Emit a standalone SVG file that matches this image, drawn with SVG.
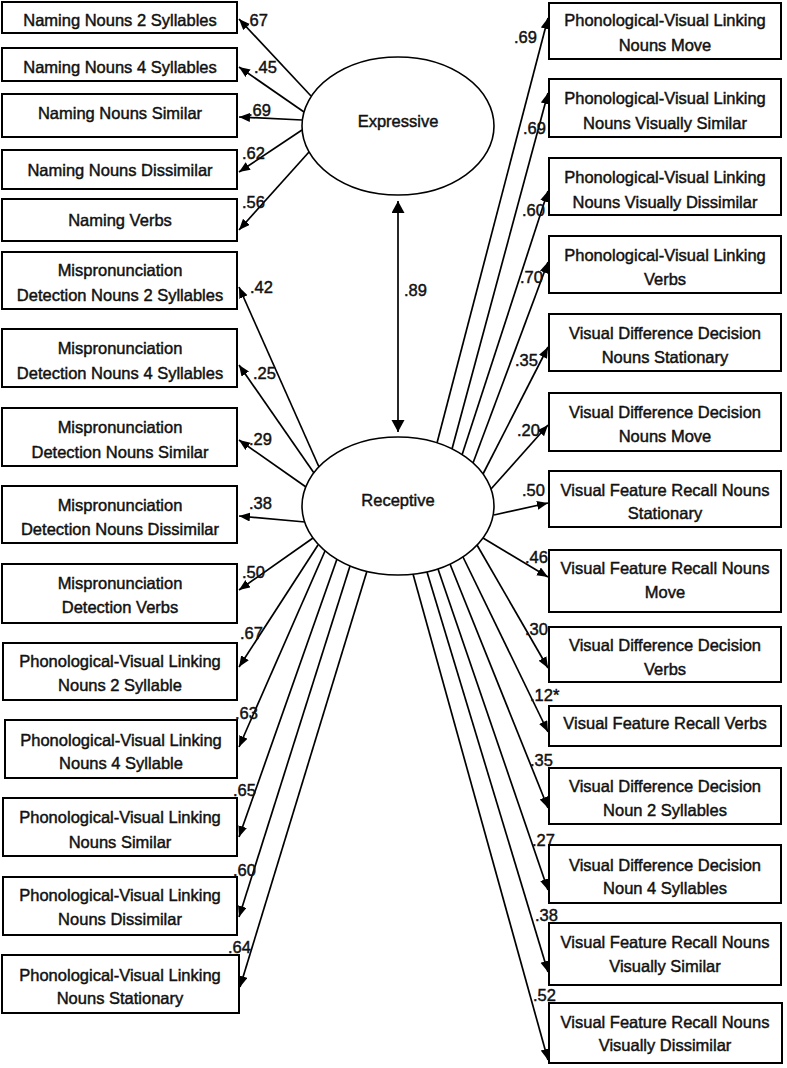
<svg xmlns="http://www.w3.org/2000/svg" width="787" height="1068" viewBox="0 0 787 1068">
<defs>
<style>
.box{fill:#fff;stroke:#000;stroke-width:2}
.lat{fill:#fff;stroke:#000;stroke-width:1.6}
.t{font-family:"Liberation Sans",Arial,sans-serif;font-size:16.5px;text-anchor:middle;fill:#111;stroke:#111;stroke-width:0.45}
.l{font-family:"Liberation Sans",Arial,sans-serif;font-size:16.5px;fill:#111;stroke:#111;stroke-width:0.45}
.c{stroke:#000;stroke-width:1.7;fill:none;marker-end:url(#ah)}
.d{stroke:#000;stroke-width:1.7;fill:none;marker-start:url(#dh);marker-end:url(#dh)}
</style>
<marker id="ah" markerUnits="userSpaceOnUse" markerWidth="12" markerHeight="10" refX="11" refY="4.5" orient="auto"><path d="M0,0 L11,4.5 L0,9 z" fill="#000"/></marker>
<marker id="dh" markerUnits="userSpaceOnUse" markerWidth="14" markerHeight="14" refX="12" refY="6.5" orient="auto-start-reverse"><path d="M0,0 L12,6.5 L0,13 z" fill="#000"/></marker>
</defs>
<rect width="787" height="1068" fill="#fff"/>

<g id="connectors">
<line class="d" x1="398" y1="201" x2="398" y2="432"/>
<line class="c" x1="311" y1="96" x2="239" y2="19"/>
<line class="c" x1="304" y1="112" x2="239" y2="67"/>
<line class="c" x1="302" y1="120" x2="239" y2="117"/>
<line class="c" x1="302" y1="130" x2="239" y2="172"/>
<line class="c" x1="309" y1="152" x2="239" y2="230"/>
<line class="c" x1="319" y1="467" x2="239" y2="287"/>
<line class="c" x1="314" y1="473" x2="239" y2="365"/>
<line class="c" x1="306" y1="487" x2="239" y2="440"/>
<line class="c" x1="305" y1="522" x2="239" y2="516"/>
<line class="c" x1="313" y1="538" x2="239" y2="590"/>
<line class="c" x1="318" y1="545" x2="239" y2="667"/>
<line class="c" x1="325" y1="551" x2="239" y2="747"/>
<line class="c" x1="337" y1="559" x2="239" y2="837"/>
<line class="c" x1="350" y1="566" x2="239" y2="917"/>
<line class="c" x1="367" y1="571" x2="240" y2="987"/>
<line class="c" x1="437" y1="443" x2="548" y2="18"/>
<line class="c" x1="452" y1="449" x2="548" y2="93"/>
<line class="c" x1="462" y1="455" x2="548" y2="191"/>
<line class="c" x1="473" y1="463" x2="548" y2="262"/>
<line class="c" x1="483" y1="474" x2="548" y2="347"/>
<line class="c" x1="491" y1="489" x2="548" y2="425"/>
<line class="c" x1="494" y1="515" x2="548" y2="503"/>
<line class="c" x1="483" y1="538" x2="548" y2="577"/>
<line class="c" x1="477" y1="545" x2="548" y2="668"/>
<line class="c" x1="463" y1="557" x2="548" y2="732"/>
<line class="c" x1="450" y1="564" x2="548" y2="808"/>
<line class="c" x1="438" y1="569" x2="548" y2="890"/>
<line class="c" x1="427" y1="572" x2="548" y2="972"/>
<line class="c" x1="413" y1="574" x2="548" y2="1060"/>
</g>

<g id="labels">
<text class="l" x="404" y="296">.89</text>
<text class="l" x="245" y="26">.67</text>
<text class="l" x="254" y="73">.45</text>
<text class="l" x="248" y="116">.69</text>
<text class="l" x="242" y="159">.62</text>
<text class="l" x="242" y="208">.56</text>
<text class="l" x="250" y="293">.42</text>
<text class="l" x="253" y="379">.25</text>
<text class="l" x="249" y="445">.29</text>
<text class="l" x="249" y="509">.38</text>
<text class="l" x="242" y="578">.50</text>
<text class="l" x="240" y="639">.67</text>
<text class="l" x="235" y="719">.63</text>
<text class="l" x="233" y="796">.65</text>
<text class="l" x="233" y="876">.60</text>
<text class="l" x="228" y="953">.64</text>
<text class="l" x="514" y="43">.69</text>
<text class="l" x="523" y="134">.69</text>
<text class="l" x="522" y="216">.60</text>
<text class="l" x="520" y="283">.70</text>
<text class="l" x="515" y="366">.35</text>
<text class="l" x="517" y="436">.20</text>
<text class="l" x="522" y="496">.50</text>
<text class="l" x="525" y="563">.46</text>
<text class="l" x="525" y="635">.30</text>
<text class="l" x="530" y="701">.12*</text>
<text class="l" x="530" y="766">.35</text>
<text class="l" x="532" y="846">.27</text>
<text class="l" x="535" y="921">.38</text>
<text class="l" x="533" y="1001">.52</text>
</g>

<g id="expressive"><ellipse class="lat" cx="398" cy="126" rx="96" ry="69"/><text class="t" x="398" y="127">Expressive</text></g>
<g id="receptive"><ellipse class="lat" cx="398" cy="506" rx="96" ry="69"/><text class="t" x="398" y="506">Receptive</text></g>

<g id="L1"><rect class="box" x="2" y="2" width="235" height="31"/><text class="t" x="120" y="26">Naming Nouns 2 Syllables</text></g>
<g id="L2"><rect class="box" x="2" y="48" width="235" height="33"/><text class="t" x="120" y="73">Naming Nouns 4 Syllables</text></g>
<g id="L3"><rect class="box" x="2" y="94" width="235" height="43"/><text class="t" x="120" y="119">Naming Nouns Similar</text></g>
<g id="L4"><rect class="box" x="2" y="150" width="235" height="39"/><text class="t" x="120" y="176">Naming Nouns Dissimilar</text></g>
<g id="L5"><rect class="box" x="2" y="199" width="235" height="42"/><text class="t" x="120" y="226">Naming Verbs</text></g>
<g id="L6"><rect class="box" x="2" y="252" width="235" height="57"/><text class="t" x="120" y="276">Mispronunciation</text><text class="t" x="120" y="301">Detection Nouns 2 Syllables</text></g>
<g id="L7"><rect class="box" x="2" y="329" width="235" height="58"/><text class="t" x="120" y="354">Mispronunciation</text><text class="t" x="120" y="379">Detection Nouns 4 Syllables</text></g>
<g id="L8"><rect class="box" x="2" y="408" width="235" height="58"/><text class="t" x="120" y="433">Mispronunciation</text><text class="t" x="120" y="458">Detection Nouns Similar</text></g>
<g id="L9"><rect class="box" x="2" y="486" width="235" height="57"/><text class="t" x="120" y="511">Mispronunciation</text><text class="t" x="120" y="535">Detection Nouns Dissimilar</text></g>
<g id="L10"><rect class="box" x="2" y="564" width="235" height="59"/><text class="t" x="120" y="589">Mispronunciation</text><text class="t" x="120" y="613">Detection Verbs</text></g>
<g id="L11"><rect class="box" x="3" y="643" width="234" height="57"/><text class="t" x="120" y="667">Phonological-Visual Linking</text><text class="t" x="120" y="691">Nouns 2 Syllable</text></g>
<g id="L12"><rect class="box" x="5" y="720" width="232" height="58"/><text class="t" x="121" y="746">Phonological-Visual Linking</text><text class="t" x="121" y="769">Nouns 4 Syllable</text></g>
<g id="L13"><rect class="box" x="3" y="798" width="234" height="58"/><text class="t" x="120" y="823">Phonological-Visual Linking</text><text class="t" x="120" y="848">Nouns Similar</text></g>
<g id="L14"><rect class="box" x="3" y="877" width="234" height="58"/><text class="t" x="120" y="901">Phonological-Visual Linking</text><text class="t" x="120" y="925">Nouns Dissimilar</text></g>
<g id="L15"><rect class="box" x="2" y="955" width="237" height="58"/><text class="t" x="120" y="981">Phonological-Visual Linking</text><text class="t" x="120" y="1004">Nouns Stationary</text></g>

<g id="R1"><rect class="box" x="549" y="3" width="232" height="56"/><text class="t" x="665" y="26">Phonological-Visual Linking</text><text class="t" x="665" y="51">Nouns Move</text></g>
<g id="R2"><rect class="box" x="549" y="79" width="232" height="58"/><text class="t" x="665" y="104">Phonological-Visual Linking</text><text class="t" x="665" y="129">Nouns Visually Similar</text></g>
<g id="R3"><rect class="box" x="549" y="158" width="232" height="57"/><text class="t" x="665" y="183">Phonological-Visual Linking</text><text class="t" x="665" y="208">Nouns Visually Dissimilar</text></g>
<g id="R4"><rect class="box" x="549" y="236" width="232" height="57"/><text class="t" x="665" y="261">Phonological-Visual Linking</text><text class="t" x="665" y="285">Verbs</text></g>
<g id="R5"><rect class="box" x="549" y="314" width="232" height="57"/><text class="t" x="665" y="339">Visual Difference Decision</text><text class="t" x="665" y="363">Nouns Stationary</text></g>
<g id="R6"><rect class="box" x="549" y="393" width="232" height="58"/><text class="t" x="665" y="418">Visual Difference Decision</text><text class="t" x="665" y="442">Nouns Move</text></g>
<g id="R7"><rect class="box" x="549" y="471" width="232" height="56"/><text class="t" x="665" y="496">Visual Feature Recall Nouns</text><text class="t" x="665" y="519">Stationary</text></g>
<g id="R8"><rect class="box" x="549" y="550" width="232" height="62"/><text class="t" x="665" y="574">Visual Feature Recall Nouns</text><text class="t" x="665" y="598">Move</text></g>
<g id="R9"><rect class="box" x="549" y="627" width="232" height="55"/><text class="t" x="665" y="651">Visual Difference Decision</text><text class="t" x="665" y="675">Verbs</text></g>
<g id="R10"><rect class="box" x="549" y="706" width="232" height="40"/><text class="t" x="665" y="729">Visual Feature Recall Verbs</text></g>
<g id="R11"><rect class="box" x="549" y="768" width="232" height="56"/><text class="t" x="665" y="792">Visual Difference Decision</text><text class="t" x="665" y="816">Noun 2 Syllables</text></g>
<g id="R12"><rect class="box" x="549" y="845" width="232" height="58"/><text class="t" x="665" y="871">Visual Difference Decision</text><text class="t" x="665" y="894">Noun 4 Syllables</text></g>
<g id="R13"><rect class="box" x="549" y="923" width="232" height="62"/><text class="t" x="665" y="948">Visual Feature Recall Nouns</text><text class="t" x="665" y="972">Visually Similar</text></g>
<g id="R14"><rect class="box" x="549" y="1003" width="233" height="60"/><text class="t" x="665" y="1028">Visual Feature Recall Nouns</text><text class="t" x="665" y="1051">Visually Dissimilar</text></g>
</svg>
